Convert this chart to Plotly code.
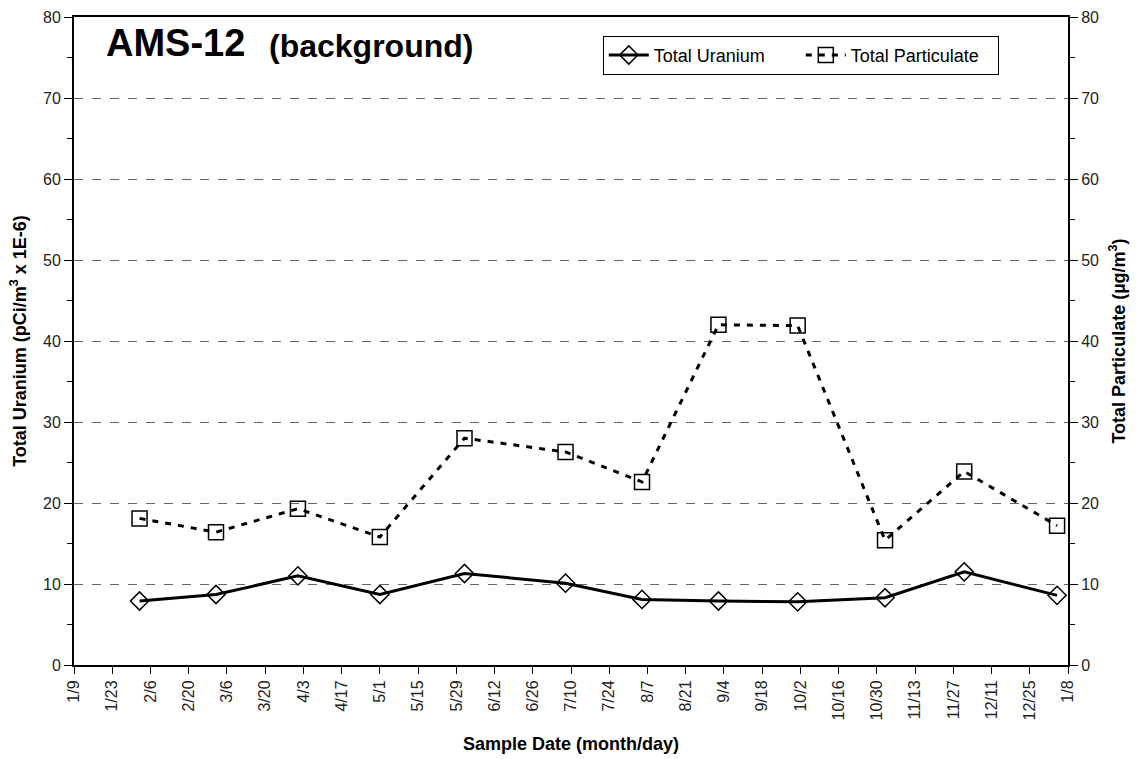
import plotly.graph_objects as go

# Sample dates (month/day) across the monitoring year
sample_dates = ["2005-02-02", "2005-03-02", "2005-04-01", "2005-05-01", "2005-06-01",
                "2005-07-08", "2005-08-05", "2005-09-02", "2005-10-01", "2005-11-02",
                "2005-12-01", "2006-01-04"]

# Total uranium, pCi/m3 x 1E-6
total_uranium = [7.9, 8.7, 11.0, 8.7, 11.3, 10.1, 8.1, 7.9, 7.8, 8.3, 11.5, 8.6]

# Total particulate, ug/m3
total_particulate = [18.1, 16.4, 19.3, 15.8, 28.0, 26.3, 22.6, 42.0, 41.9, 15.4, 23.9, 17.2]

FONT = "Liberation Sans, Arial, sans-serif"
DAY_MS = 86400000

fig = go.Figure()

fig.add_trace(go.Scatter(
    x=sample_dates, y=total_uranium, name="Total Uranium",
    mode="lines+markers",
    line=dict(color="black", width=3),
    marker=dict(symbol="diamond-open", size=14, color="black", line=dict(width=1.5)),
    yaxis="y",
))

fig.add_trace(go.Scatter(
    x=sample_dates, y=total_particulate, name="Total Particulate",
    mode="lines+markers",
    line=dict(color="black", width=3, dash="6px,7px"),
    marker=dict(symbol="square-open", size=15, color="black", line=dict(width=1.5)),
    yaxis="y2",
))

tick_font = dict(family=FONT, size=16, color="#222")
title_font = dict(family=FONT, size=18, color="black")

fig.update_layout(
    width=1136, height=759,
    margin=dict(l=74, r=68, t=17, b=94),
    paper_bgcolor="white", plot_bgcolor="white",
    font=dict(family=FONT, color="black"),
    showlegend=True,
    legend=dict(
        orientation="h", x=0.532, y=0.971, xanchor="left", yanchor="top",
        bgcolor="white", bordercolor="black", borderwidth=1,
        font=dict(family=FONT, size=18, color="black"),
        itemwidth=40, entrywidth=142, tracegroupgap=0,
    ),
    xaxis=dict(
        type="date", automargin=False,
        range=["2005-01-09", "2006-01-08"],
        tick0="2005-01-09", dtick=14 * DAY_MS,
        tickformat="%-m/%-d", tickangle=-90,
        ticks="outside", ticklen=7, tickwidth=1, tickcolor="black",
        showline=True, linecolor="black", linewidth=2, mirror=True,
        showgrid=False, zeroline=False,
        tickfont=tick_font,
        title=dict(text="<b>Sample Date (month/day)</b>", font=title_font, standoff=18),
    ),
    yaxis=dict(
        range=[0, 80], dtick=10, automargin=False,
        ticks="outside", ticklen=8, tickwidth=1, tickcolor="black",
        minor=dict(dtick=5, ticks="outside", ticklen=5, tickcolor="black", showgrid=False),
        showline=True, linecolor="black", linewidth=2,
        showgrid=True, gridcolor="#666", griddash="dash", gridwidth=1,
        zeroline=False,
        tickfont=tick_font,
        title=dict(text="<b>Total Uranium (pCi/m<sup>3</sup> x 1E-6)</b>", font=title_font, standoff=12),
    ),
    yaxis2=dict(
        range=[0, 80], dtick=10, overlaying="y", side="right", automargin=False,
        ticks="outside", ticklen=8, tickwidth=1, tickcolor="black",
        minor=dict(dtick=5, ticks="outside", ticklen=5, tickcolor="black", showgrid=False),
        showline=True, linecolor="black", linewidth=2,
        showgrid=False, zeroline=False,
        tickfont=tick_font,
        title=dict(text="<b>Total Particulate (µg/m<sup>3</sup>)</b>", font=title_font, standoff=14),
    ),
    annotations=[
        dict(text="<b>AMS-12</b>", xref="paper", yref="paper", x=0.03, y=0.995,
             xanchor="left", yanchor="top", showarrow=False,
             font=dict(family=FONT, size=38, color="black")),
        dict(text="<b>(background)</b>", xref="paper", yref="paper", x=0.194, y=0.986,
             xanchor="left", yanchor="top", showarrow=False,
             font=dict(family=FONT, size=32, color="black")),
    ],
)

fig.write_html("out.html")
